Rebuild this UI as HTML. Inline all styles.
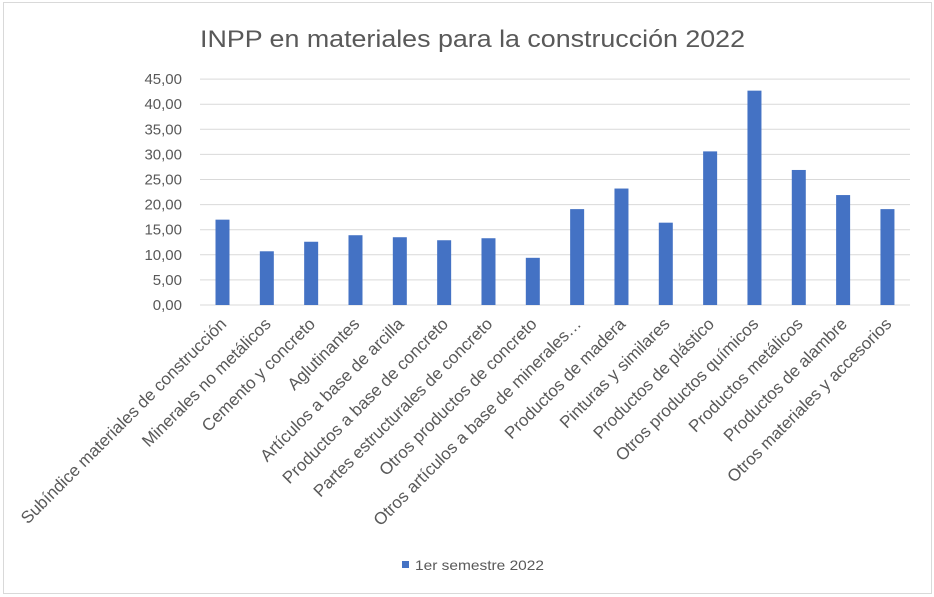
<!DOCTYPE html><html><head><meta charset="utf-8"><style>
body{margin:0;background:#fff}
svg{display:block;font-family:"Liberation Sans",sans-serif}
</style></head><body>
<svg width="934" height="597" xmlns="http://www.w3.org/2000/svg">
<rect x="3.5" y="2.5" width="928" height="591" fill="#fff" stroke="#d9d9d9"/>
<text x="200" y="47" font-size="24" fill="#595959" textLength="545" lengthAdjust="spacingAndGlyphs">INPP en materiales para la construcción 2022</text>
<g id="g"></g>
<rect x="402" y="561" width="7" height="7" fill="#4472c4"/>
<text x="415" y="570" font-size="14" fill="#595959" textLength="129" lengthAdjust="spacingAndGlyphs">1er semestre 2022</text>
</svg>
<script>
const vals=[17.0,10.7,12.6,13.9,13.5,12.9,13.3,9.4,19.1,23.2,16.4,30.6,42.7,26.9,21.9,19.1];
const labs=["Subíndice materiales de construcción","Minerales no metálicos","Cemento y concreto","Aglutinantes","Artículos a base de arcilla","Productos a base de concreto","Partes estructurales de concreto","Otros productos de concreto","Otros artículos a base de minerales…","Productos de madera","Pinturas y similares","Productos de plástico","Otros productos químicos","Productos metálicos","Productos de alambre","Otros materiales y accesorios"];
let s="";const y0=305,k=25.1/5;
for(let i=0;i<=9;i++){const y=y0-i*25.1;s+=`<line x1="200" x2="910" y1="${y}" y2="${y}" stroke="#d9d9d9"/>`;
s+=`<text x="182" y="${y+5}" font-size="15" fill="#595959" text-anchor="end">${(i*5).toFixed(2).replace('.',',')}</text>`;}
vals.forEach((v,i)=>{const c=222.5+44.33*i,h=v*k;
s+=`<rect x="${c-7}" y="${y0-h}" width="14" height="${h}" fill="#4472c4"/>`;
s+=`<text transform="translate(${c+5},${y0+20}) rotate(-45)" font-size="17" fill="#595959" text-anchor="end">${labs[i]}</text>`;});
document.getElementById("g").innerHTML=s;
</script>
</body></html>
